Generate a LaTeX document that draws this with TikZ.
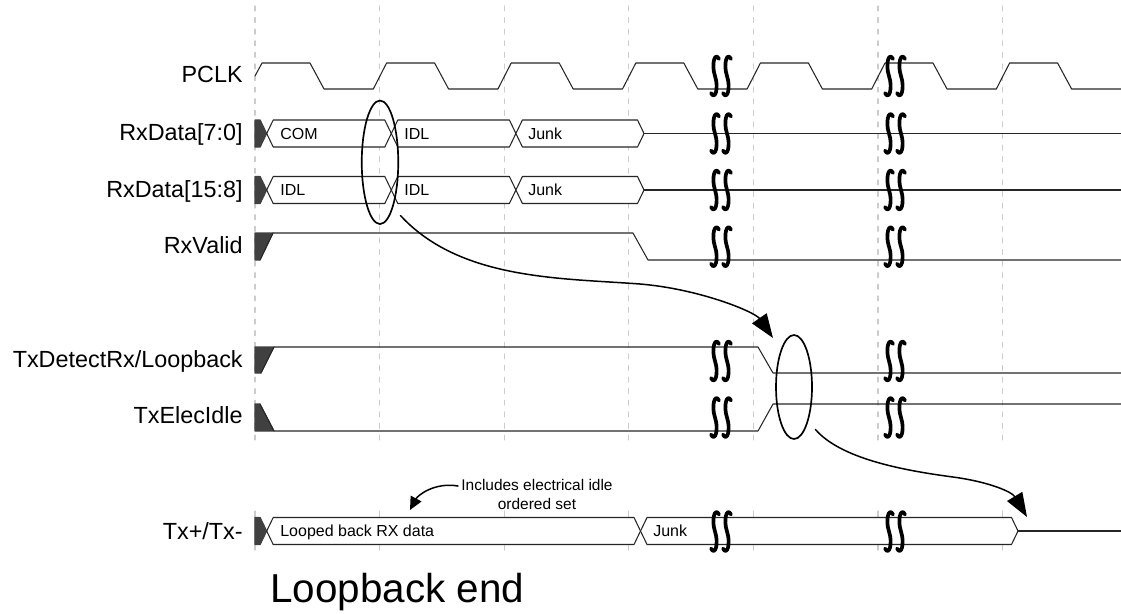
\documentclass[tikz,border=0pt]{standalone}
\usepackage{fontspec}
\setmainfont{Liberation Sans}
\usetikzlibrary{shapes.geometric,arrows.meta}

% bus segment from crossing #1 to crossing #2 on centre line #3
\newcommand{\busseg}[3]{%
  \filldraw[bus] (#1,#3) -- ({#1+6.5},{#3-13.5}) -- ({#2-6.5},{#3-13.5}) -- (#2,#3)
    -- ({#2-6.5},{#3+13.5}) -- ({#1+6.5},{#3+13.5}) -- cycle;}

\begin{document}
\begin{tikzpicture}[x=0.02cm,y=-0.02cm,line cap=round,line join=round,
  sig/.style={line width=0.6pt,color=black!85},
  bus/.style={sig,fill=white},
  xstate/.style={fill=black!75,draw=black!75,line width=0.6pt},
  guide/.style={color=black!20,line width=0.6pt,dash pattern=on 2.8pt off 3.8pt},
  lbl/.style={anchor=base east,inner sep=0pt,font=\fontsize{13.3}{15}\selectfont},
  val/.style={anchor=base west,inner sep=0pt,font=\fontsize{9.1}{11}\selectfont},
  ring/.style={draw,ellipse,line width=0.95pt,inner sep=0pt},
  callout/.style={line width=0.85pt,-{Triangle[length=0.48cm,width=0.35cm]}},
  pointer/.style={line width=0.85pt,-{Triangle[length=0.26cm,width=0.24cm]}},
  brk/.pic={\foreach \o in {-6,6}
    \draw[line width=2.1pt,line cap=round] (\o+4,-17) .. controls (\o,-25) and (\o-4,-12) .. (\o,0)
      .. controls (\o+4,12) and (\o,25) .. (\o-4,17);}]
  \useasboundingbox (0,0) rectangle (1121,613);

  % clock grid
  \foreach \k in {0,...,6} {
    \draw[guide] ({255+124.6*\k},6) -- ({255+124.6*\k},440);
    \draw[black!20,line width=0.6pt] ({255+124.6*\k},511) -- ({255+124.6*\k},550);
  }

  % PCLK
  \draw[sig] (255,76) -- (262,63)
    \foreach \k in {0,...,5} { -- ({255+124.6*\k+55},63) -- ({255+124.6*\k+69},89)
      -- ({255+124.6*\k+118.3},89) -- ({255+124.6*\k+131.6},63) }
    -- (1057.6,63) -- (1071.6,89) -- (1121,89);

  % data buses
  \foreach \m in {133.5,190,531}
    \filldraw[xstate] (255,\m-13.5) -- (260.2,\m-13.5) -- (266.7,\m) -- (260.2,\m+13.5) -- (255,\m+13.5) -- cycle;
  \busseg{266.7}{391.3}{133.5}
  \busseg{391.3}{515.9}{133.5}
  \busseg{515.9}{644}{133.5}
  \draw[sig] (644,133.5) -- (1121,133.5);
  \busseg{266.7}{391.3}{190}
  \busseg{391.3}{515.9}{190}
  \busseg{515.9}{644}{190}
  \draw[sig] (644,190) -- (1121,190);
  \busseg{266.7}{640.5}{531}
  \busseg{640.5}{1018}{531}
  \draw[sig] (1018,531) -- (1121,531);

  % single lines
  \filldraw[xstate] (255,233) -- (273,233) -- (260,260) -- (255,260) -- cycle;
  \draw[sig] (260,260) -- (273,233) -- (633,233) -- (648,260) -- (1121,260);
  \filldraw[xstate] (255,347) -- (274,347) -- (261,373) -- (255,373) -- cycle;
  \draw[sig] (261,373) -- (274,347) -- (758,347) -- (773,373) -- (1121,373);
  \filldraw[xstate] (255,404) -- (260,404) -- (274,431) -- (255,431) -- cycle;
  \draw[sig] (260,404) -- (274,431) -- (758,431) -- (773,404) -- (1121,404);

  % signal names
  \node[lbl] (pclk) at (243,82.5) {PCLK};
  \node[lbl] (rxlo) at (243,140.5) {RxData[7:0]};
  \node[lbl] (rxhi) at (243,197) {RxData[15:8]};
  \node[lbl] (rxvalid) at (243,253.5) {RxValid};
  \node[lbl] (txdet) at (243,367) {TxDetectRx/Loopback};
  \node[lbl] (txidle) at (243,423.5) {TxElecIdle};
  \node[lbl] (txdata) at (243,539) {Tx+/Tx-};

  % bus values
  \node[val] (locom) at (280,139.2) {COM};
  \node[val] (loidl) at (404,139.2) {IDL};
  \node[val] (lojunk) at (528,139.2) {Junk};
  \node[val] (hiidl) at (280,195.7) {IDL};
  \node[val] (hiidlb) at (404,195.7) {IDL};
  \node[val] (hijunk) at (528,195.7) {Junk};
  \node[val] (txloop) at (280,536.7) {Looped back RX data};
  \node[val] (txjunk) at (653,536.7) {Junk};

  % time breaks
  \foreach \y in {76,133.5,190,246.7,361,417.5,531.5}
    \foreach \x in {721,895}
      \pic at (\x,\y) {brk};

  % rings and arrows
  \node[ring,minimum width=0.73cm,minimum height=2.47cm] (ringrx) at (380,162.3) {};
  \node[ring,minimum width=0.72cm,minimum height=2.08cm] (ringtx) at (794,387) {};
  \coordinate (tiptx) at (773,338);
  \coordinate (tipend) at (1027,517);
  \coordinate (tipnote) at (410,510);
  \draw[callout] ([shift={(7,9)}]ringrx.south east) .. controls (460,280) and (560,278) .. (640,284)
    .. controls (700,289) and (755,312) .. (tiptx);
  \draw[callout] ([shift={(8,5)}]ringtx.south east) .. controls (840,458) and (900,470) .. (953,477)
    .. controls (990,482) and (1012,492) .. (tipend);

  \node[font=\fontsize{8.8}{10.8}\selectfont,align=center,inner sep=0pt] (note) at (537,494) {Includes electrical idle\\ordered set};
  \draw[pointer] ([shift={(-3,-8)}]note.west) .. controls (435,482) and (418,495) .. (tipnote);

  \node[anchor=base west,inner sep=0pt,font=\fontsize{23}{27}\selectfont] (title) at (270,602) {Loopback end};
\end{tikzpicture}
\end{document}
